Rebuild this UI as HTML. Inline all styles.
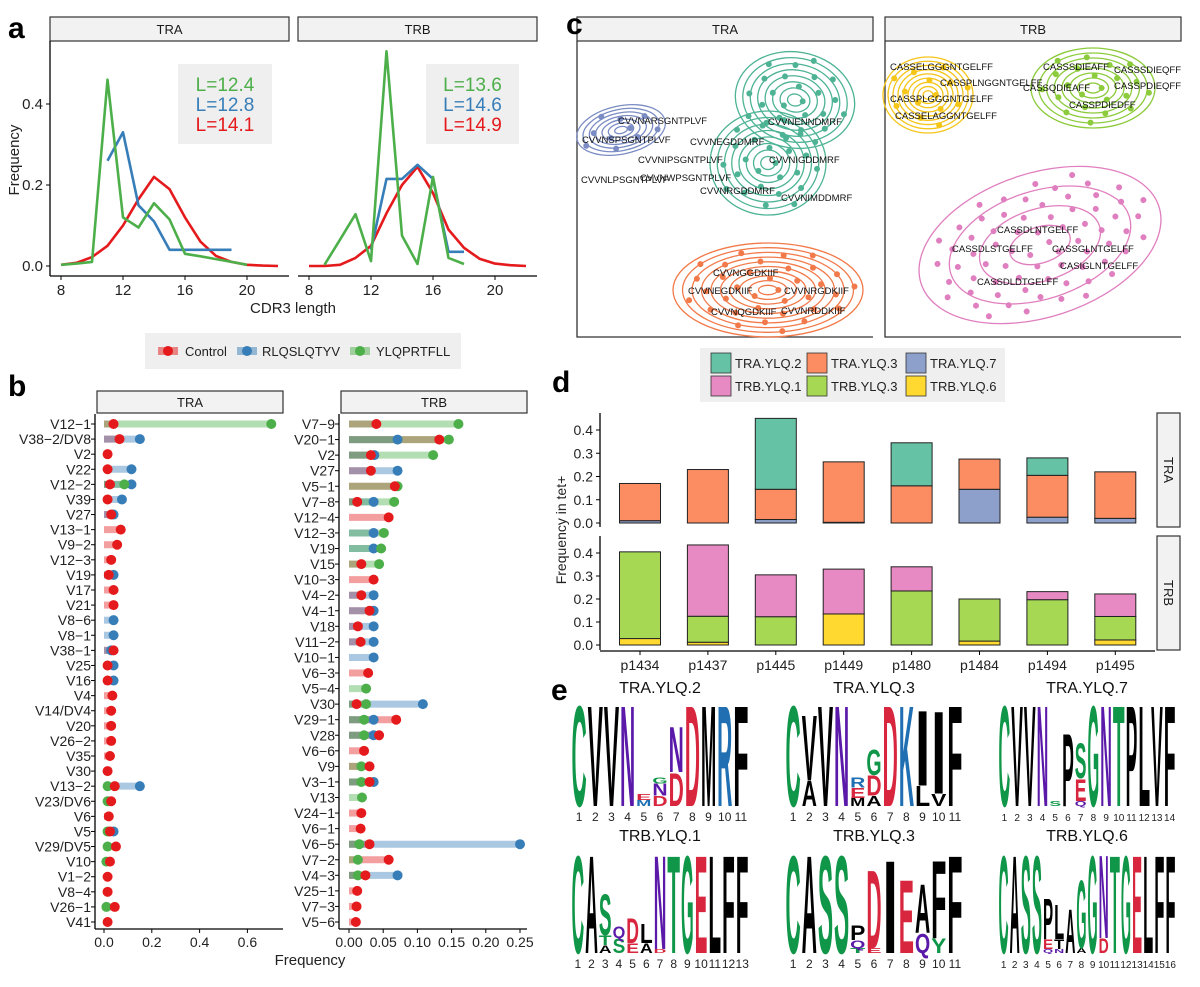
<!DOCTYPE html>
<html><head><meta charset="utf-8"><style>
html,body{margin:0;padding:0;background:#fff}
svg{display:block;font-family:"Liberation Sans",Arial,sans-serif}
</style></head><body>
<svg id="fig" width="1200" height="987" viewBox="0 0 1200 987" xmlns="http://www.w3.org/2000/svg">
<rect width="1200" height="987" fill="#fff"/>
</svg>
<script>
// ---------- Panel a data ----------
const aLengths = [8,9,10,11,12,13,14,15,16,17,18,19,20,21,22];
const aTicksX = [8,12,16,20];
const aTicksY = [0,0.2,0.4];
const traCtrl = [.003,.008,.022,.05,.1,.165,.22,.19,.12,.06,.025,.01,.003,.001,0];
const traRlq  = [null,null,null,.26,.33,.15,.11,.04,.04,.04,.04,.04,null,null,null];
const traYlq  = [.003,.006,.01,.46,.12,.095,.155,.115,.03,.024,.017,.01,.003,null,null];
const trbCtrl = [0,0,.003,.02,.05,.13,.2,.245,.18,.09,.045,.018,.006,.002,0];
const trbRlq  = [null,null,null,null,.04,.215,.215,.25,.215,.035,.035,null,null,null,null];
const trbYlq  = [null,.003,.065,.128,.012,.53,.075,.005,.22,.02,.005,null,null,null,null];
const traMeans = ["L=12.4","L=12.8","L=14.1"];
const trbMeans = ["L=13.6","L=14.6","L=14.9"];

// ---------- Panel b data ----------
const bTraGenes = ["V12−1","V38−2/DV8","V2","V22","V12−2","V39","V27","V13−1","V9−2","V12−3","V19","V17","V21","V8−6","V8−1","V38−1","V25","V16","V4","V14/DV4","V20","V26−2","V35","V30","V13−2","V23/DV6","V6","V5","V29/DV5","V10","V1−2","V8−4","V26−1","V41"];
const bTraCtrl = [.04,.065,.015,.015,.025,.015,.03,.07,.055,.03,.02,.04,.04,null,null,.04,.015,.015,.035,.03,.03,.03,.025,.015,.045,.03,.02,.025,.05,.025,.015,.015,.045,.015];
const bTraRlq  = [null,.15,null,.115,.115,.075,.04,null,null,null,.04,null,null,.04,.04,.03,.04,.04,null,null,null,null,null,null,.15,null,null,.04,null,null,null,null,null,null];
const bTraYlq  = [.70,null,null,null,.085,null,null,null,null,null,null,null,null,null,null,null,null,null,null,null,null,null,null,null,.015,.015,null,.015,.015,.01,null,null,.01,null];
const bTrbGenes = ["V7−9","V20−1","V2","V27","V5−1","V7−8","V12−4","V12−3","V19","V15","V10−3","V4−2","V4−1","V18","V11−2","V10−1","V6−3","V5−4","V30","V29−1","V28","V6−6","V9","V3−1","V13","V24−1","V6−1","V6−5","V7−2","V4−3","V25−1","V7−3","V5−6"];
const bTrbCtrl = [.04,.132,.032,.032,.067,.012,.058,null,null,.018,.036,.018,.03,.013,.017,null,.028,null,.011,.069,.044,.022,.03,.03,null,.018,.017,.03,.058,.024,.012,.011,.01];
const bTrbRlq  = [null,.071,.037,.071,null,.036,null,.036,.036,null,null,.036,.036,.036,.036,.036,null,null,.108,.036,.036,null,null,.036,null,null,null,.25,null,.071,null,null,null];
const bTrbYlq  = [.16,.146,.123,null,.071,.066,null,.051,.047,.044,null,null,null,null,null,null,null,.025,.025,.022,.022,null,.018,.018,.019,null,null,.015,.013,.013,null,null,null];
const bTraTicks = [0,0.2,0.4,0.6];
const bTrbTicks = [0,0.05,0.10,0.15,0.20,0.25];
const bTrbTickLabels = ["0.00","0.05","0.10","0.15","0.20","0.25"];

// ---------- Panel d data ----------
const dPatients = ["p1434","p1437","p1445","p1449","p1480","p1484","p1494","p1495"];
const dTraYlq7 = [.01,0,.015,.003,0,.145,.025,.02];
const dTraYlq3 = [.16,.23,.13,.26,.16,.13,.18,.2];
const dTraYlq2 = [0,0,.305,0,.185,0,.075,0];
const dTrbYlq6 = [.028,.012,0,.135,0,.017,0,.022];
const dTrbYlq3 = [.377,.113,.123,0,.235,.183,.197,.102];
const dTrbYlq1 = [0,.31,.182,.195,.105,0,.035,.098];
const dTicks = [0,0.1,0.2,0.3,0.4];

const NS = "http://www.w3.org/2000/svg";
const svg = document.getElementById('fig');
function mk(tag, attrs, parent, txt){
  const e = document.createElementNS(NS, tag);
  for (const k in attrs) e.setAttribute(k, attrs[k]);
  if (txt !== undefined) e.textContent = txt;
  (parent||svg).appendChild(e);
  return e;
}
const RED="#E41A1C", BLUE="#377EB8", GREEN="#4DAF4A";

function strip(x,y,w,h,label,parent,vertical){
  const g = mk('g',{},parent);
  
  
  mk('rect',{x:x,y:y,width:w,height:h,fill:"#f2f2f2",stroke:"#333","stroke-width":1.2},g);
  if (vertical){
    mk('text',{x:x+w/2,y:y+h/2,"font-size":13,"text-anchor":"middle","dominant-baseline":"central",transform:`rotate(90 ${x+w/2} ${y+h/2})`,fill:"#1a1a1a"},g,label);
  } else {
    mk('text',{x:x+w/2,y:y+h/2+5,"font-size":13,"text-anchor":"middle",fill:"#1a1a1a"},g,label);
  }
  return g;
}

// ================= PANEL A =================
(function(){
  const pa = mk('g',{});
  
  
  const yS = v => 266 - v*405;
  const facets = [
    {name:"TRA", x0:50, x1:289, xs: v=>61+(v-8)*15.5, data:[traCtrl,traRlq,traYlq], means:traMeans, box:[178,64,94,80]},
    {name:"TRB", x0:298, x1:537, xs: v=>309+(v-8)*15.5, data:[trbCtrl,trbRlq,trbYlq], means:trbMeans, box:[426,64,93,80]}
  ];
  facets.forEach((f,fi)=>{
    strip(f.x0,17,f.x1-f.x0,24,f.name,pa);
    const mb = mk('g',{},pa);
    
    
    mk('rect',{x:f.box[0],y:f.box[1],width:f.box[2],height:f.box[3],fill:"#efefef"},mb);
    const cols=[GREEN,BLUE,RED];
    f.means.forEach((m,i)=>{
      const t = mk('text',{x:f.box[0]+f.box[2]/2,y:f.box[1]+27+i*20,"font-size":19,"text-anchor":"middle",fill:cols[i]},mb,m);
      
      
    });
    mk('line',{x1:f.x0,y1:276,x2:f.x1,y2:276,stroke:"#000","stroke-width":1.3},pa);
    aTicksX.forEach(t=>{
      const x=f.xs(t);
      mk('line',{x1:x,y1:276,x2:x,y2:280,stroke:"#000"},pa);
      const tl = mk('text',{x:x,y:295,"font-size":15,"text-anchor":"middle",fill:"#222"},pa,String(t));
      
      
    });
    if (fi===0){
      mk('line',{x1:50,y1:41,x2:50,y2:276,stroke:"#000","stroke-width":1.3},pa);
      aTicksY.forEach(t=>{
        mk('line',{x1:46,y1:yS(t),x2:50,y2:yS(t),stroke:"#000"},pa);
        const tl = mk('text',{x:43,y:yS(t)+5,"font-size":15,"text-anchor":"end",fill:"#222"},pa,t.toFixed(1));
        
        
      });
    }
    const colors=[RED,BLUE,GREEN];
    [0,1,2].forEach(si=>{
      const arr=f.data[si];
      let d="";
      arr.forEach((v,i)=>{ if(v===null) return; d += (d===""?"M":"L")+f.xs(aLengths[i]).toFixed(1)+","+yS(v).toFixed(1); });
      const p = mk('path',{d:d,fill:"none",stroke:colors[si],"stroke-width":2.6,"stroke-linejoin":"round"},pa);
      
      
    });
  });
  const xt = mk('text',{x:293,y:313,"font-size":15,"text-anchor":"middle",fill:"#222"},pa,"CDR3 length");
  
  
  const yt = mk('text',{x:0,y:0,"font-size":15,"text-anchor":"middle",fill:"#222",transform:"translate(19,160) rotate(-90)"},pa,"Frequency");
  
  

  const lg = mk('g',{},pa);
  
  
  mk('rect',{x:145,y:333,width:316,height:36,fill:"#efefef"},lg);
  const items=[["Control",RED,158,185],["RLQSLQTYV",BLUE,237,262],["YLQPRTFLL",GREEN,350,376]];
  items.forEach(it=>{
    const e = mk('g',{},lg);
    
    
    mk('rect',{x:it[2],y:347,width:20,height:8,fill:it[1],opacity:0.5},e);
    mk('circle',{cx:it[2]+10,cy:351,r:5,fill:it[1]},e);
    mk('text',{x:it[3],y:356,"font-size":13,fill:"#222"},e,it[0]);
  });
})();

// ================= PANEL B =================
(function(){
  const pb = mk('g',{});
  
  
  const facets=[
    {name:"TRA", genes:bTraGenes, c:bTraCtrl, r:bTraRlq, g:bTraYlq, ax:95, x1:283, xs:v=>104+v*239, ticks:bTraTicks, tl:bTraTicks.map(t=>t.toFixed(1)), labX:91},
    {name:"TRB", genes:bTrbGenes, c:bTrbCtrl, r:bTrbRlq, g:bTrbYlq, ax:339, x1:527, xs:v=>349+v*684, ticks:bTrbTicks, tl:bTrbTickLabels, labX:335}
  ];
  facets.forEach(f=>{
    strip(f.ax+2,391,f.x1-f.ax-2,22,f.name,pb);
    const n=f.genes.length;
    const ys = i=>424+i*(922-424)/(n-1);
    mk('line',{x1:f.ax,y1:414,x2:f.ax,y2:929,stroke:"#000","stroke-width":1.3},pb);
    mk('line',{x1:f.ax,y1:929,x2:f.x1,y2:929,stroke:"#000","stroke-width":1.3},pb);
    f.genes.forEach((gname,i)=>{
      mk('line',{x1:f.ax-4,y1:ys(i),x2:f.ax,y2:ys(i),stroke:"#000"},pb);
      const t = mk('text',{x:f.labX,y:ys(i)+5,"font-size":14,"text-anchor":"end",fill:"#222"},pb,gname);
      
      
    });
    f.ticks.forEach((t,i)=>{
      const x=f.xs(t);
      mk('line',{x1:x,y1:929,x2:x,y2:933,stroke:"#000"},pb);
      const tl = mk('text',{x:x,y:947,"font-size":14,"text-anchor":"middle",fill:"#222"},pb,f.tl[i]);
      
      
    });
    const series=[[f.c,RED,"control"],[f.r,BLUE,"rlqslqtyv"],[f.g,GREEN,"ylqprtfll"]];
    series.forEach(s=>{
      s[0].forEach((v,i)=>{
        if(v===null) return;
        const seg = mk('line',{x1:f.xs(0),y1:ys(i),x2:f.xs(v),y2:ys(i),stroke:s[1],"stroke-width":7,opacity:0.42},pb);
        
        
      });
    });
    [series[1],series[2],series[0]].forEach(s=>{
      s[0].forEach((v,i)=>{
        if(v===null) return;
        const c = mk('circle',{cx:f.xs(v),cy:ys(i),r:5,fill:s[1]},pb);
        
        
      });
    });
  });
  const xt = mk('text',{x:310,y:965,"font-size":15,"text-anchor":"middle",fill:"#222"},pb,"Frequency");
  
  
})();

// ================= PANEL C =================
(function(){
  const pc = mk('g',{});
  
  
  const panels=[["TRA",577,873],["TRB",885,1181]];
  panels.forEach(p=>{
    strip(p[1],17,p[2]-p[1],24,p[0],pc);
    const fr = mk('path',{d:`M${p[1]},41 L${p[1]},337 L${p[2]},337`,fill:"none",stroke:"#333","stroke-width":1.3},pc);
    
    
  });
  const clusters=[
    [621,130,45,24,-12,7,"#7B8CC4","tra-ylq-7",10],
    [795,100,60,48,10,8,"#4DB394","tra-ylq-2-upper",25],
    [768,163,58,52,0,8,"#4DB394","tra-ylq-2-lower",25],
    [768,290,95,47,0,10,"#F27A4A","tra-ylq-3",35],
    [928,95,45,38,0,9,"#F5C518","trb-ylq-6",14],
    [1093,88,62,40,0,8,"#8CCB3C","trb-ylq-3",22],
    [1040,245,125,72,-18,4,"#E07FBF","trb-ylq-1",70]
  ];
  clusters.forEach(c=>{
    const g = mk('g',{transform:`translate(${c[0]},${c[1]}) rotate(${c[4]})`},pc);
    
    
    for(let k=1;k<=c[5];k++){
      const f=k/c[5];
      mk('ellipse',{cx:0,cy:0,rx:c[2]*f,ry:c[3]*f,fill:"none",stroke:c[6],"stroke-width":1.3},g);
    }
    for(let i=0;i<c[8];i++){
      const a=i*2.39996, rr=Math.sqrt((i+0.5)/c[8])*0.92;
      mk('circle',{cx:(Math.cos(a)*rr*c[2]).toFixed(1),cy:(Math.sin(a)*rr*c[3]).toFixed(1),r:3,fill:c[6]},g);
    }
  });
  const labels=[
    ["CVVNARSGNTPLVF",618,124],["CVVNSPSGNTPLVF",582,143],["CVVNIPSGNTPLVF",638,163],["CVVNLPSGNTPLVF",581,183],["CVVNWPSGNTPLVF",640,181],
    ["CVVNENNDMRF",768,125],["CVVNEGDDMRF",690,145],["CVVNIGDDMRF",769,163],["CVVNRGDDMRF",700,194],["CVVNIMDDMRF",781,201],
    ["CVVNGGDKIIF",713,276],["CVVNEGDKIIF",688,294],["CVVNRGDKIIF",784,294],["CVVNRDDKIIF",781,314],["CVVNQGDKIIF",711,315],
    ["CASSELGGGNTGELFF",890,70],["CASSPLNGGNTGELFF",940,86],["CASSPLGGGNTGELFF",890,102],["CASSELAGGNTGELFF",895,119],
    ["CASSSDIEAFF",1043,70],["CASSSDIEQFF",1114,73],["CASSQDIEAFF",1023,91],["CASSPDIEQFF",1114,89],["CASSPDIEDFF",1069,108],
    ["CASSDLNTGELFF",997,233],["CASSDLSTGELFF",952,252],["CASSGLNTGELFF",1052,252],["CASIGLNTGELFF",1060,269],["CASSDLDTGELFF",977,285]
  ];
  labels.forEach(l=>{
    const t = mk('text',{x:l[1],y:l[2],"font-size":9.5,fill:"#111"},pc,l[0]);
    
    
  });
})();

// ================= PANEL D =================
(function(){
  const pd = mk('g',{});
  
  
  const C={t2:"#66C2A5",t3:"#FC8D62",t7:"#8DA0CB",b1:"#E78AC3",b3:"#A6D854",b6:"#FFD92F"};
  const lg = mk('g',{},pd);
  
  
  mk('rect',{x:700,y:348,width:305,height:54,fill:"#efefef"},lg);
  const li=[["TRA.YLQ.2",C.t2,711,353],["TRA.YLQ.3",C.t3,807,353],["TRA.YLQ.7",C.t7,906,353],["TRB.YLQ.1",C.b1,711,376],["TRB.YLQ.3",C.b3,807,376],["TRB.YLQ.6",C.b6,906,376]];
  li.forEach(l=>{
    const e = mk('g',{},lg);
    
    
    mk('rect',{x:l[2],y:l[3],width:20,height:20,fill:l[1],stroke:"#333","stroke-width":0.8},e);
    mk('text',{x:l[2]+24,y:l[3]+15,"font-size":13,fill:"#222"},e,l[0]);
  });
  const bw=41;
  const xc = i=>640+i*67.9;
  const facets=[
    {name:"TRA", top:413, bot:527, y0:523, k:232.5, stacks:[[dTraYlq7,C.t7,"tra-ylq-7"],[dTraYlq3,C.t3,"tra-ylq-3"],[dTraYlq2,C.t2,"tra-ylq-2"]]},
    {name:"TRB", top:536, bot:650, y0:645, k:230, stacks:[[dTrbYlq6,C.b6,"trb-ylq-6"],[dTrbYlq3,C.b3,"trb-ylq-3"],[dTrbYlq1,C.b1,"trb-ylq-1"]]}
  ];
  facets.forEach(f=>{
    strip(1157,f.top,23,f.bot-f.top,f.name,pd,true);
    mk('line',{x1:600,y1:f.top,x2:600,y2:f.bot,stroke:"#000","stroke-width":1.3},pd);
    dTicks.forEach(t=>{
      const y=f.y0-t*f.k;
      mk('line',{x1:596,y1:y,x2:600,y2:y,stroke:"#000"},pd);
      const tl = mk('text',{x:593,y:y+5,"font-size":14,"text-anchor":"end",fill:"#222"},pd,t.toFixed(1));
      
      
    });
    dPatients.forEach((p,i)=>{
      let acc=0;
      f.stacks.forEach(s=>{
        const v=s[0][i];
        if(v>0){
          const y1=f.y0-(acc+v)*f.k, y2=f.y0-acc*f.k;
          const r = mk('rect',{x:xc(i)-bw/2,y:y1,width:bw,height:y2-y1,fill:s[1],stroke:"#222","stroke-width":1},pd);
          
          
        }
        acc+=v;
      });
    });
  });
  mk('line',{x1:600,y1:651,x2:1155,y2:651,stroke:"#000","stroke-width":1.3},pd);
  dPatients.forEach((p,i)=>{
    mk('line',{x1:xc(i),y1:651,x2:xc(i),y2:655,stroke:"#000"},pd);
    const t = mk('text',{x:xc(i),y:670,"font-size":14,"text-anchor":"middle",fill:"#222"},pd,p);
    
    
  });
  const yt = mk('text',{x:0,y:0,"font-size":14,"text-anchor":"middle",fill:"#222",transform:"translate(566,530) rotate(-90)"},pd,"Frequency in tet+");
  
  
})();

// ================= PANEL E (sequence logos) =================
const G="#109648", K="#000", P="#5A19A8", R="#D7263D", B="#1F6FB2";
const logoTraYlq2 = [[["C",G,1]],[["V",K,1]],[["V",K,1]],[["N",P,1]],[["M",B,.06],["E",R,.06]],[["D",R,.1],["N",P,.12],["G",G,.06]],[["D",R,.33],["N",P,.45]],[["D",R,1]],[["M",K,1]],[["R",B,1]],[["F",K,1]]];
const logoTraYlq3 = [[["C",G,1]],[["A",K,.25],["V",K,.65]],[["V",K,1]],[["N",P,1]],[["M",K,.08],["E",R,.1],["R",B,.1]],[["A",K,.1],["D",R,.2],["G",G,.25]],[["D",R,1]],[["K",B,1]],[["L",K,.2],["I",K,.75]],[["V",K,.12],["I",K,.82]],[["F",K,1]]];
const logoTraYlq7 = [[["C",G,1]],[["V",K,1]],[["V",K,1]],[["N",P,1]],[["S",G,.05]],[["P",K,.72]],[["Q",P,.05],["E",R,.22],["S",G,.35]],[["G",G,1]],[["N",P,1]],[["T",G,1]],[["P",K,1]],[["L",K,1]],[["V",K,1]],[["F",K,1]]];
const logoTrbYlq1 = [[["C",G,1]],[["A",K,1]],[["A",K,.08],["T",G,.1],["S",G,.42]],[["S",G,.15],["Q",P,.12]],[["E",R,.1],["D",R,.25]],[["A",K,.1],["L",K,.2]],[["D",R,.04],["N",P,.96]],[["T",G,1]],[["G",G,1]],[["E",R,1]],[["L",K,1]],[["F",K,1]],[["F",K,1]]];
const logoTrbYlq3 = [[["C",G,1]],[["A",K,1]],[["S",G,1]],[["S",G,1]],[["T",G,.05],["Q",P,.08],["P",K,.15]],[["E",R,.05],["D",R,.8]],[["I",K,.95]],[["E",R,.75]],[["Q",P,.2],["A",K,.5]],[["Y",G,.15],["F",K,.8]],[["F",K,1]]];
const logoTrbYlq6 = [[["C",G,1]],[["A",K,1]],[["S",G,1]],[["S",G,1]],[["Q",P,.04],["E",R,.1],["P",K,.42]],[["N",P,.04],["T",K,.1],["L",K,.35]],[["A",K,.45]],[["A",K,.05],["G",G,.7]],[["G",G,1]],[["D",R,.15],["N",P,.85]],[["T",G,1]],[["G",G,1]],[["E",R,1]],[["L",K,1]],[["F",K,1]],[["F",K,1]]];
const logoTitles = ["TRA.YLQ.2","TRA.YLQ.3","TRA.YLQ.7","TRB.YLQ.1","TRB.YLQ.3","TRB.YLQ.6"];
(function(){
  const pe = mk('g',{});
  
  
  const logos=[logoTraYlq2,logoTraYlq3,logoTraYlq7,logoTrbYlq1,logoTrbYlq3,logoTrbYlq6];
  const lx=[571,785,998], row=[{t:693,top:703,bot:806,n:821},{t:841,top:853,bot:953,n:968}];
  logos.forEach((logo,li)=>{
    const x0=lx[li%3], r=row[Math.floor(li/3)], w=178;
    const g = mk('g',{},pe);
    
    
    mk('text',{x:x0+w/2,y:r.t,"font-size":16,"text-anchor":"middle",fill:"#111"},g,logoTitles[li]);
    const n=logo.length, sw=w/n, H=r.bot-r.top;
    logo.forEach((pos,pi)=>{
      let base=r.bot;
      pos.forEach(l=>{
        const h=l[2]*H;
        if(h<1) return;
        const fs=h/0.716;
        mk('text',{x:(x0+pi*sw+0.5).toFixed(1),y:base.toFixed(1),"font-size":fs.toFixed(1),"font-weight":"bold",fill:l[1],textLength:(sw-1).toFixed(1),lengthAdjust:"spacingAndGlyphs"},g,l[0]);
        base-=h;
      });
      mk('text',{x:(x0+pi*sw+sw/2).toFixed(1),y:r.n,"font-size":n>13?10:12,"text-anchor":"middle",fill:"#222"},g,String(pi+1));
    });
  });
})();

// ---------- panel letters (on top) ----------
const panelLetters = [["a",8,38],["b",8,396],["c",566,34],["d",552,392],["e",551,700]];
panelLetters.forEach(p=>{
  const t = mk('text',{x:p[1],y:p[2],"font-size":30,"font-weight":"bold",fill:"#000"},svg,p[0]);
  
  
});
</script>
</body></html>
